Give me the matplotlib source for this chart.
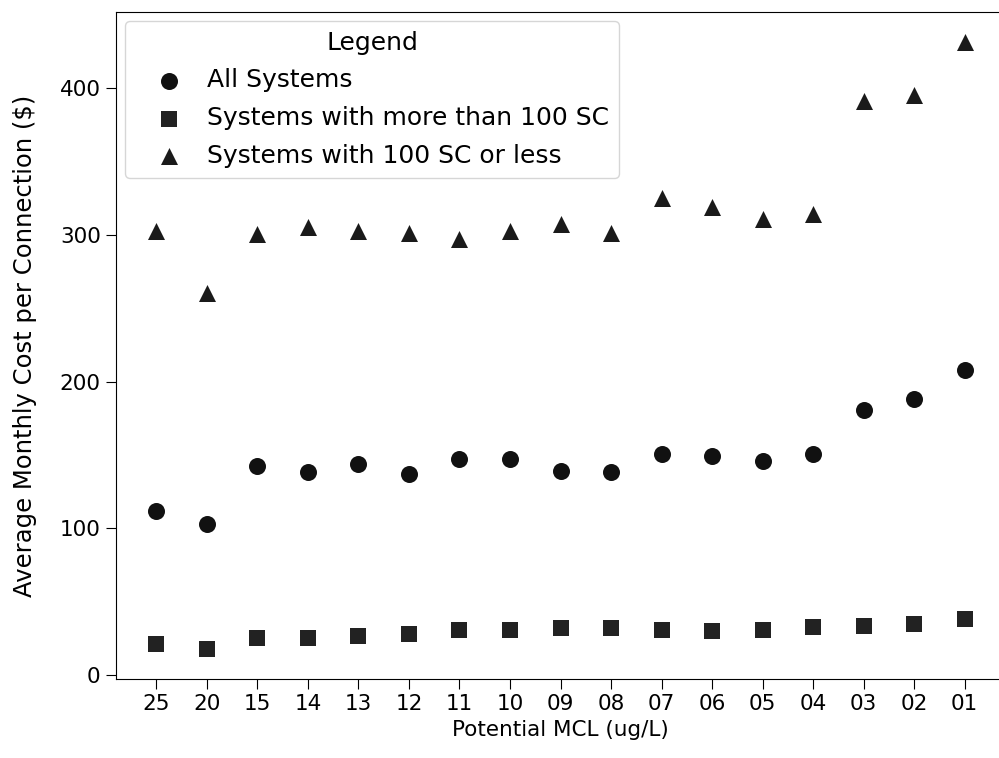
import matplotlib
matplotlib.use("Agg")
import matplotlib.pyplot as plt

# Potential MCL categories (ug/L) and average monthly cost per connection ($)
mcl = ["25", "20", "15", "14", "13", "12", "11", "10", "09",
       "08", "07", "06", "05", "04", "03", "02", "01"]
all_systems = [111.6, 102.8, 142.4, 138.5, 143.8, 137.4, 147.2, 147.4, 139.0,
               138.7, 151.0, 149.6, 146.2, 151.0, 180.6, 187.9, 207.8]
large_systems = [21.5, 18.0, 25.5, 25.5, 26.8, 28.2, 30.7, 30.7, 32.0,
                 32.0, 30.9, 29.8, 30.9, 32.5, 33.8, 35.1, 38.5]
small_systems = [302.9, 260.2, 300.8, 305.5, 303.0, 301.7, 297.5, 303.0, 307.8,
                 301.7, 325.1, 319.2, 310.8, 314.4, 391.5, 395.2, 431.4]

plt.rcParams["font.family"] = "DejaVu Sans"
plt.rcParams["font.size"] = 15.5

fig = plt.figure(figsize=(9.99, 7.58), dpi=100)
ax = fig.add_axes([116 / 999, 79 / 758, 889 / 999, 667 / 758])

ax.scatter(mcl, all_systems, marker="o", s=150, color="#111111",
           linewidths=0, label="All Systems")
ax.scatter(mcl, large_systems, marker="s", s=130, color="#222222",
           linewidths=0, label="Systems with more than 100 SC")
ax.scatter(mcl, small_systems, marker="^", s=150, color="#1a1a1a",
           linewidths=0, label="Systems with 100 SC or less")

ax.set_yticks([0, 100, 200, 300, 400])
ax.tick_params(axis="both", length=7, pad=4, labelsize=15.5)
ax.set_xlabel("Potential MCL (ug/L)", fontsize=15.5, labelpad=4)
ax.set_ylabel("Average Monthly Cost per Connection ($)", fontsize=17.5,
              labelpad=16)

leg = ax.legend(title="Legend", loc="upper left", frameon=True,
                fontsize=18, title_fontsize=18, borderaxespad=0.35,
                labelspacing=0.55, handlelength=2.7, handletextpad=0.2)
leg.get_frame().set_edgecolor("#cccccc")

fig.savefig("out.png", dpi=100)
